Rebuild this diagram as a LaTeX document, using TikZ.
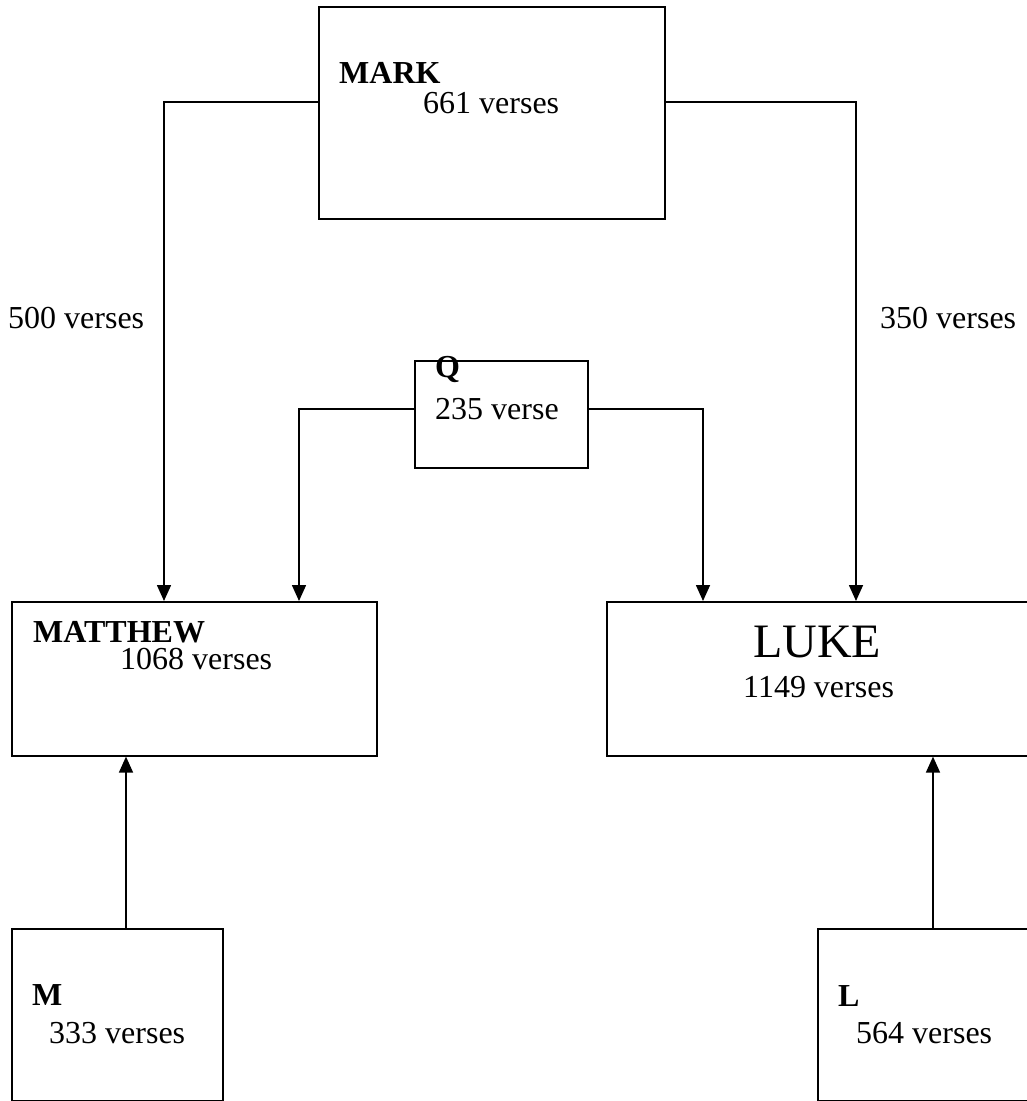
\documentclass[tikz,border=0pt]{standalone}
\usepackage{fontspec}
\setmainfont{Liberation Serif}
\usetikzlibrary{arrows.meta}
\begin{document}
\begin{tikzpicture}[x=1pt,y=-1pt,
  box/.style={draw,line width=1.6pt,anchor=north west,inner sep=0pt,minimum width=#1},
  txt/.style={anchor=base west,inner sep=0pt,font=\fontsize{32}{38}\selectfont},
  btxt/.style={anchor=base west,inner sep=0pt,font=\fontsize{32}{38}\selectfont\bfseries},
  arr/.style={line width=1.6pt,-{Triangle[width=14pt,length=16pt]}}]
\useasboundingbox (0,0) rectangle (1026,1101);
% boxes
\node[box=346pt,minimum height=212pt] (MARK) at (318,6) {};
\node[box=173pt,minimum height=107pt] (Q) at (414,360) {};
\node[box=365pt,minimum height=154pt] (MATTHEW) at (11,601) {};
\node[box=421pt,minimum height=154pt] (LUKE) at (606,601) {};
\node[box=211pt,minimum height=172pt] (M) at (11,928) {};
\node[box=211pt,minimum height=172pt] (L) at (817,928) {};
% texts
\node[btxt] (tmark) at (339,83) {MARK};
\node[txt] (tmarkv) at (423,113) {661 verses};
\node[btxt] (tq) at (435,377) {Q};
\node[txt] (tqv) at (435,419) {235 verse};
\node[btxt] (tmatt) at (33,642) {MATTHEW};
\node[txt] (tmattv) at (120,669) {1068 verses};
\node[anchor=base west,inner sep=0pt,font=\fontsize{48}{56}\selectfont] (tluke) at (753,657) {LUKE};
\node[txt] (tlukev) at (743,697) {1149 verses};
\node[btxt] (tm) at (32,1005) {M};
\node[txt] (tmv) at (49,1043) {333 verses};
\node[btxt] (tl) at (838,1006) {L};
\node[txt] (tlv) at (856,1043) {564 verses};
\node[txt] (l500) at (8,328) {500 verses};
\node[txt] (l350) at (880,328) {350 verses};
% connectors
\draw[arr] (MARK.west |- 0,102) -| (MATTHEW.north -| 164,0);
\draw[arr] (MARK.east |- 0,102) -| (LUKE.north -| 856,0);
\draw[arr] (Q.west |- 0,409) -| (MATTHEW.north -| 299,0);
\draw[arr] (Q.east |- 0,409) -| (LUKE.north -| 703,0);
\draw[arr] (M.north -| 126,0) -- (MATTHEW.south -| 126,0);
\draw[arr] (L.north -| 933,0) -- (LUKE.south -| 933,0);
\end{tikzpicture}
\end{document}
